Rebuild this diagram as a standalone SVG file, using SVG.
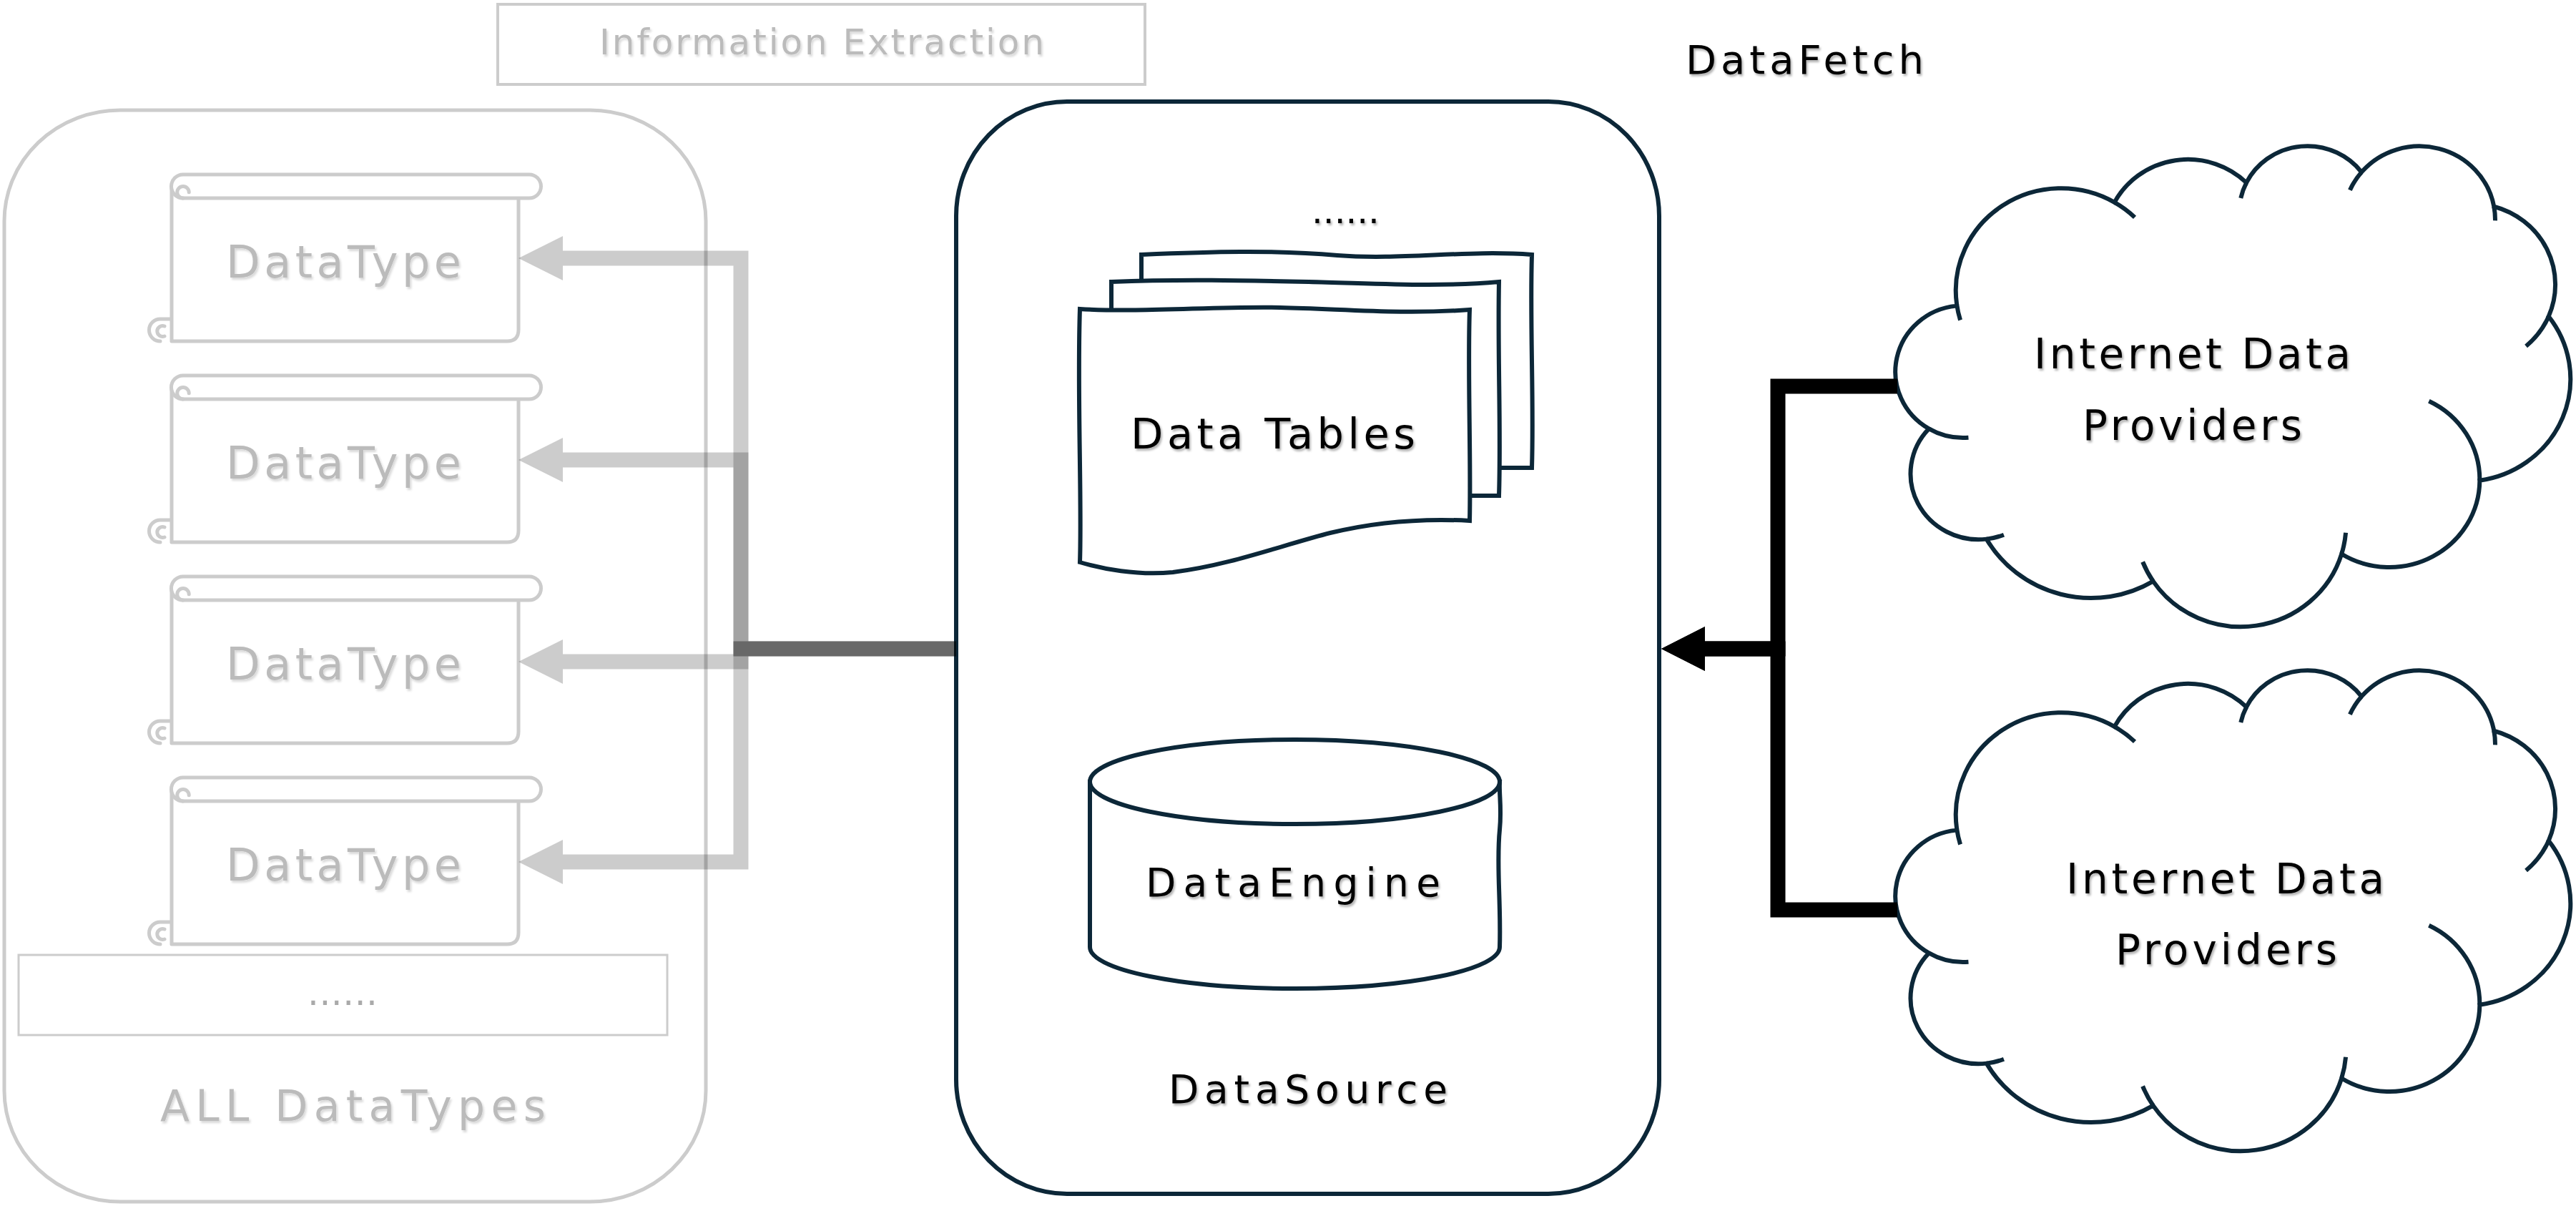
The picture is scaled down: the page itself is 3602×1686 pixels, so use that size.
<svg xmlns="http://www.w3.org/2000/svg" width="3602" height="1686" viewBox="0 0 3602 1686">
<style>
.t{font-family:"DejaVu Sans","Liberation Sans",sans-serif;}
.dk{fill:#000;filter:url(#ts);}
.gy{fill:#bbbbbb;filter:url(#ts2);}
.navy{fill:#fff;stroke:#0c2738;stroke-width:6;}
.lite{fill:#fff;stroke:#cccccc;stroke-width:5;}
.sc{fill:#fff;stroke:#cccccc;stroke-width:5;stroke-linejoin:round;}
.scn{fill:none;stroke:#cccccc;stroke-width:5;stroke-linecap:round;}
.cl{fill:#fff;stroke:#0c2738;stroke-width:6;}
.tk{fill:none;stroke:#0c2738;stroke-width:6;}
.g{fill:none;stroke:#000;stroke-opacity:0.2;stroke-width:21;}
.b{fill:none;stroke:#000;stroke-width:21;}
</style>
<defs>
<filter id="ts" x="-10%" y="-30%" width="120%" height="160%"><feDropShadow dx="2" dy="3" stdDeviation="1.5" flood-color="#000" flood-opacity="0.3"/></filter>
<filter id="ts2" x="-10%" y="-30%" width="120%" height="160%"><feDropShadow dx="2" dy="3" stdDeviation="1.5" flood-color="#000" flood-opacity="0.15"/></filter>
<marker id="ag" markerUnits="userSpaceOnUse" viewBox="0 -32 62 64" markerWidth="62" markerHeight="64" refX="0" refY="0" orient="auto"><path d="M0,-31 L62,0 L0,31 Z" fill="#000" fill-opacity="0.2"/></marker>
<marker id="ab" markerUnits="userSpaceOnUse" viewBox="0 -32 62 64" markerWidth="62" markerHeight="64" refX="0" refY="0" orient="auto"><path d="M0,-31 L61,0 L0,31 Z" fill="#000"/></marker>
<g id="scroll">
<path class="scn" d="M 240,446 L 224,446 A 15.5 15.5 0 0 0 224,477"/>
<path class="scn" d="M 230,456 A 7.5 7.5 0 1 0 230,470"/>
<path class="sc" d="M 240,260.5 L 240,477 L 709,477 Q 725,477 725,461 L 725,277"/>
<path class="sc" d="M 256,244 L 740,244 A 16.5 16.5 0 0 1 740,277 L 256,277 A 16.5 16.5 0 0 1 256,244 Z"/>
<path class="scn" d="M 256,277 A 8.25 8.25 0 0 1 256,260.5 A 8.25 8.25 0 0 1 264.25,268.75"/>
</g>
<g id="cloudshape">
<path class="cl" vector-effect="non-scaling-stroke" d="M 3900,14370 A 6753 9190 0 0 1 14005,5202 A 5333 7267 0 0 1 22458,3434 A 4365 5945 0 0 1 29835,2483 A 4857 6595 0 0 1 38320,5578 A 5333 7273 0 0 1 41820,15461 A 6775 9220 0 0 1 37406,30203 A 5785 7867 0 0 1 28557,36813 A 6752 9215 0 0 1 16483,39267 A 7720 10543 0 0 1 5808,35474 A 4360 5918 0 0 1 2116,25554 A 4345 5945 0 0 1 3866,14510 Z"/>
<path class="tk" vector-effect="non-scaling-stroke" d="M 4649,26351 A 4345 5945 0 0 1 2116,25554 M 6916,35093 A 4360 5918 0 0 1 5808,35474 M 16483,39267 A 6752 9215 0 0 1 15814,37524 M 28824,34904 A 6752 9215 0 0 1 28557,36813 M 34153,23067 A 5785 7867 0 0 1 37406,30203 M 41820,15461 A 5333 7273 0 0 1 40373,18136 M 38320,5578 A 4857 6595 0 0 1 38397,6841 M 29093,4096 A 4857 6595 0 0 1 29835,2483 M 22098,4823 A 4365 5945 0 0 1 22458,3434 M 14005,5202 A 6753 9190 0 0 1 15305,6551 M 4127,15788 A 6753 9190 0 0 1 3900,14370"/>
</g>
</defs>
<rect width="3602" height="1686" fill="#fff"/>

<g id="information-extraction">
<rect x="696" y="6" width="905" height="112" fill="#fff" stroke="#cccccc" stroke-width="4"/>
<text class="t gy" x="838" y="76" font-size="50" textLength="622" lengthAdjust="spacing">Information Extraction</text>
</g>

<g id="datafetch-label">
<text class="t dk" x="2357" y="103" font-size="56" textLength="333" lengthAdjust="spacing">DataFetch</text>
</g>

<g id="all-datatypes">
<rect class="lite" x="6" y="154" width="981" height="1526" rx="162" ry="155"/>
<text class="t gy" x="224" y="1567" font-size="60" textLength="539" lengthAdjust="spacing">ALL DataTypes</text>
</g>

<g id="datatype-1">
<use href="#scroll"/>
<text class="t gy" x="316" y="388" font-size="62" textLength="329" lengthAdjust="spacing">DataType</text>
</g>
<g id="datatype-2">
<use href="#scroll" y="281"/>
<text class="t gy" x="316" y="669" font-size="62" textLength="329" lengthAdjust="spacing">DataType</text>
</g>
<g id="datatype-3">
<use href="#scroll" y="562"/>
<text class="t gy" x="316" y="950" font-size="62" textLength="329" lengthAdjust="spacing">DataType</text>
</g>
<g id="datatype-4">
<use href="#scroll" y="843"/>
<text class="t gy" x="316" y="1231" font-size="62" textLength="329" lengthAdjust="spacing">DataType</text>
</g>

<g id="more-datatypes">
<rect x="26" y="1335" width="907" height="112" fill="#fff" stroke="#cccccc" stroke-width="3"/>
<text class="t" x="430" y="1405" font-size="50" fill="#aaaaaa" textLength="98" lengthAdjust="spacing">......</text>
</g>

<g id="datasource">
<rect class="navy" x="1337" y="142" width="983" height="1527" rx="155" ry="160"/>
<text class="t dk" x="1834" y="312" font-size="50" textLength="95" lengthAdjust="spacing">......</text>
<text class="t dk" x="1634" y="1542" font-size="55" textLength="390" lengthAdjust="spacing">DataSource</text>
</g>

<g id="data-tables">
<path class="navy" d="M 1596,356 C 1690,352 1780,349 1870,357 C 1960,364 2050,349 2142,356 C 2139,450 2145,560 2142,654 L 1596,654 Z"/>
<path class="navy" d="M 1554,394 C 1650,390 1740,392 1830,394 C 1920,396 2010,402 2096,394 C 2094,500 2099,600 2096,693 L 1554,693 Z"/>
<path class="navy" d="M 1510,432 C 1600,437 1700,428 1790,430 C 1880,432 1960,440 2055,433 C 2052,520 2057,640 2055,728 C 2000,725 1930,728 1860,745 C 1790,763 1720,790 1640,800 C 1590,805 1540,795 1510,786 C 1513,700 1506,550 1510,432 Z"/>
<text class="t dk" x="1581" y="627" font-size="59" textLength="398" lengthAdjust="spacing">Data Tables</text>
</g>

<g id="dataengine">
<path class="navy" d="M 1524,1093 L 1524,1324 A 286.5 58 0 0 0 2097,1324 C 2099,1260 2092,1210 2097,1160 C 2100,1130 2096,1110 2097,1093 Z"/>
<ellipse class="navy" cx="1810.5" cy="1093" rx="286.5" ry="59"/>
<text class="t dk" x="1602" y="1253" font-size="55" textLength="412" lengthAdjust="spacing">DataEngine</text>
</g>

<g id="provider-1">
<use href="#cloudshape" transform="translate(2651,202) scale(0.021824,0.01555)"/>
<text class="t dk" x="2844" y="515" font-size="58" textLength="443" lengthAdjust="spacing">Internet Data</text>
<text class="t dk" x="2912" y="615" font-size="58" textLength="307" lengthAdjust="spacing">Providers</text>
</g>

<g id="provider-2">
<use href="#cloudshape" transform="translate(2651,935) scale(0.021824,0.01555)"/>
<text class="t dk" x="2889" y="1249" font-size="58" textLength="445" lengthAdjust="spacing">Internet Data</text>
<text class="t dk" x="2958" y="1348" font-size="58" textLength="310" lengthAdjust="spacing">Providers</text>
</g>

<g id="connectors">
<path class="g" marker-end="url(#ag)" d="M 1337,907 H 1036 V 361 H 787"/>
<path class="g" marker-end="url(#ag)" d="M 1337,907 H 1036 V 643 H 787"/>
<path class="g" marker-end="url(#ag)" d="M 1337,907 H 1036 V 925 H 787"/>
<path class="g" marker-end="url(#ag)" d="M 1337,907 H 1036 V 1205 H 787"/>
<path class="b" marker-end="url(#ab)" d="M 2653,540 H 2486 V 907 H 2384"/>
<path class="b" marker-end="url(#ab)" d="M 2653,1272 H 2486 V 907 H 2384"/>
</g>
</svg>
